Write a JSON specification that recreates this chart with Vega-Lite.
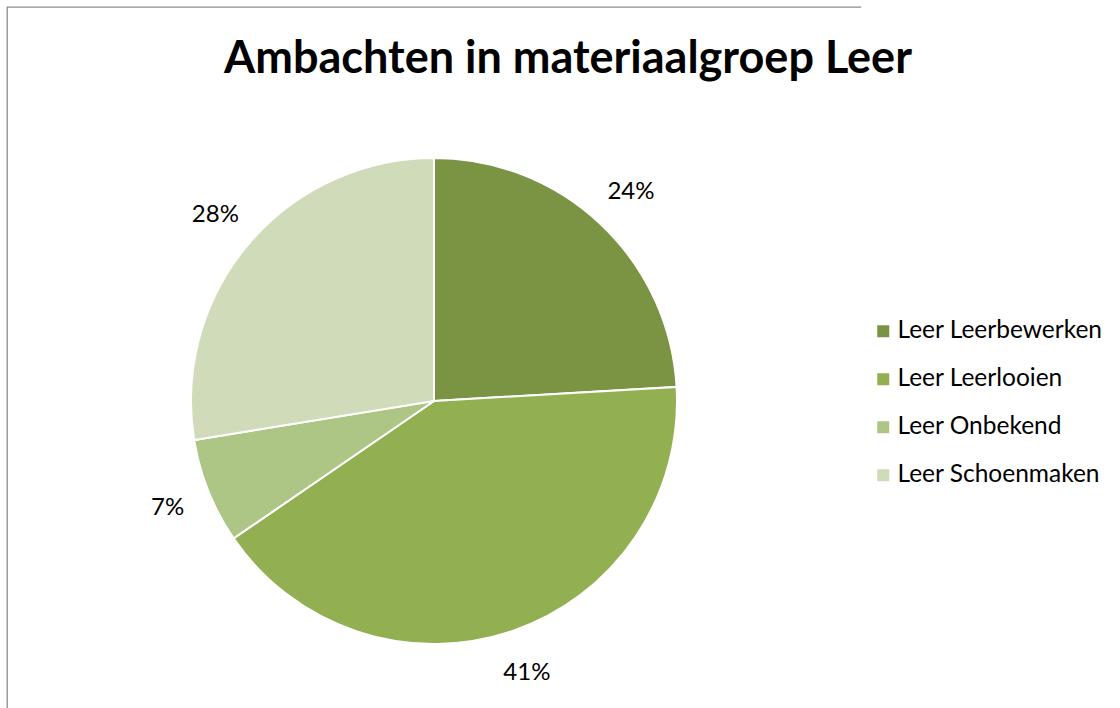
{
  "$schema": "https://vega.github.io/schema/vega-lite/v6.json",
  "autosize": "none",
  "width": 854,
  "height": 788,
  "padding": {"left": 7, "top": 7, "right": 259, "bottom": -87},
  "background": "white",
  "view": {"stroke": "#8c8c8c", "strokeWidth": 1.3, "strokeDash": [854, 1642, 788, 0]},
  "config": {
    "font": "Lato"
  },
  "title": {
    "text": "Ambachten in materiaalgroep Leer",
    "font": "Lato",
    "fontSize": 45,
    "fontWeight": "bold",
    "color": "#000000",
    "anchor": "middle",
    "frame": "group",
    "baseline": "alphabetic",
    "offset": 0,
    "dx": 134,
    "dy": 111
  },
  "data": {
    "values": [
      {"name": "Leer Leerbewerken", "share": 0.241},
      {"name": "Leer Leerlooien", "share": 0.414},
      {"name": "Leer Onbekend", "share": 0.070},
      {"name": "Leer Schoenmaken", "share": 0.276}
    ]
  },
  "layer": [
    {
      "mark": {"type": "arc", "outerRadius": 243, "stroke": "#ffffff", "strokeWidth": 2},
      "encoding": {
        "theta": {"field": "share", "type": "quantitative", "stack": true},
        "order": {"field": "name", "type": "ordinal"},
        "color": {
          "field": "name",
          "type": "nominal",
          "scale": {
            "domain": ["Leer Leerbewerken", "Leer Leerlooien", "Leer Onbekend", "Leer Schoenmaken"],
            "range": ["#7a9444", "#92b052", "#adc686", "#cfdbb9"]
          },
          "legend": {
            "orient": "none",
            "legendX": 864,
            "legendY": 312,
            "title": null,
            "padding": 0,
            "symbolType": "square",
            "symbolSize": 144,
            "symbolStrokeWidth": 0,
            "labelFont": "Lato",
            "labelFontSize": 24.5,
            "labelColor": "#000000",
            "labelLimit": 400,
            "labelOffset": 2,
            "rowPadding": 23
          }
        }
      }
    },
    {
      "mark": {"type": "text", "radius": 287, "font": "Lato", "fontSize": 24, "color": "#000000"},
      "encoding": {
        "theta": {"field": "share", "type": "quantitative", "stack": true},
        "order": {"field": "name", "type": "ordinal"},
        "detail": {"field": "name", "type": "nominal"},
        "text": {"field": "share", "type": "quantitative", "format": ".0%"}
      }
    }
  ]
}
